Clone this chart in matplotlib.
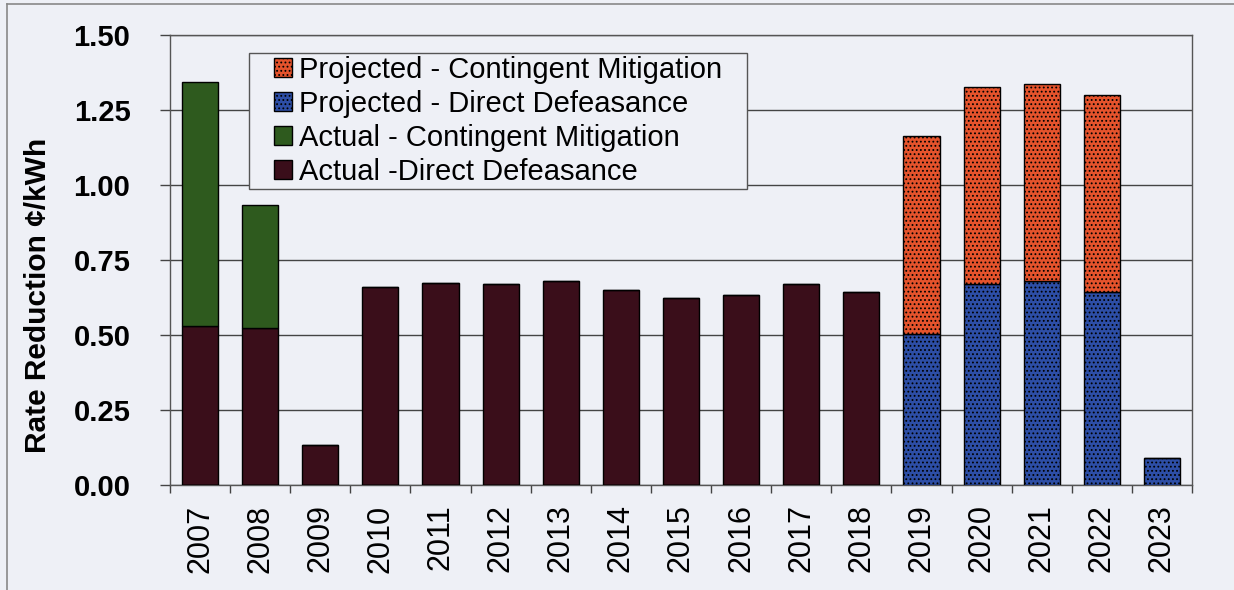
import matplotlib
matplotlib.use("Agg")
import matplotlib.pyplot as plt
import numpy as np
from matplotlib.patches import Rectangle
from matplotlib.lines import Line2D

years = ["2007", "2008", "2009", "2010", "2011", "2012", "2013", "2014", "2015",
         "2016", "2017", "2018", "2019", "2020", "2021", "2022", "2023"]
actual_direct = [0.53, 0.525, 0.135, 0.66, 0.675, 0.67, 0.68, 0.65, 0.625,
                 0.635, 0.67, 0.645, 0, 0, 0, 0, 0]
actual_contingent = [0.813, 0.408, 0, 0, 0, 0, 0, 0, 0,
                     0, 0, 0, 0, 0, 0, 0, 0]
projected_direct = [0, 0, 0, 0, 0, 0, 0, 0, 0,
                    0, 0, 0, 0.503, 0.67, 0.68, 0.645, 0.09]
projected_contingent = [0, 0, 0, 0, 0, 0, 0, 0, 0,
                        0, 0, 0, 0.66, 0.655, 0.657, 0.655, 0]
legend_labels = ["Projected - Contingent Mitigation", "Projected - Direct Defeasance",
                 "Actual - Contingent Mitigation", "Actual -Direct Defeasance"]

bg = "#eef0f6"
c_dark = "#3a0e1a"
c_green = "#2e5a1e"
c_blue = "#2d4ea6"
c_orange = "#e5532c"

plt.rcParams["font.family"] = ["Liberation Sans", "DejaVu Sans"]
plt.rcParams["hatch.color"] = "#f4d0c0"
plt.rcParams["hatch.linewidth"] = 0.8

fig = plt.figure(figsize=(12.34, 5.9), dpi=100, facecolor=bg)
ax = fig.add_axes([170 / 1234, 105 / 590, 1022 / 1234, 450 / 590])
ax.set_facecolor(bg)

x = np.arange(len(years))
w = 0.6
ad = np.array(actual_direct)
ac = np.array(actual_contingent)
pd_ = np.array(projected_direct)
pc = np.array(projected_contingent)

ax.bar(x, ad, w, color=c_dark, edgecolor="black", linewidth=1, zorder=3)
ax.bar(x, ac, w, bottom=ad, color=c_green, edgecolor="black", linewidth=1, zorder=3)
b1 = ax.bar(x, pd_, w, color=c_blue, edgecolor="black", linewidth=1, zorder=3)
for b in b1:
    b.set_hatch("....")
b2 = ax.bar(x, pc, w, bottom=pd_, color=c_orange, edgecolor="black", linewidth=1, zorder=3)
for b in b2:
    b.set_hatch("....")

ax.set_xlim(-0.5, len(years) - 0.5)
ax.set_ylim(0, 1.5)
yt = np.arange(0, 1.51, 0.25)
ax.set_yticks(yt)
ax.set_yticklabels([f"{v:.2f}" for v in yt], fontsize=21, fontweight="bold")
ax.yaxis.grid(True, color="#444444", linewidth=1, zorder=0)
ax.tick_params(axis="y", direction="out", length=7.5, width=1, pad=21, color="#444444")

ax.set_xticks(x)
ax.set_xticklabels(years, rotation=90, fontsize=22)
ax.tick_params(axis="x", length=0, pad=14)
ax.set_xticks(np.arange(-0.5, len(years), 1), minor=True)
ax.tick_params(axis="x", which="minor", direction="out", length=6, width=1, color="#444444")

for s in ax.spines.values():
    s.set_color("#555555")
    s.set_linewidth(1)

ax.set_ylabel("Rate Reduction ¢/kWh", fontsize=21.5, fontweight="bold")
ax.yaxis.set_label_coords((52 - 170) / 1022, (485 - 295) / 450)

handles = [Rectangle((0, 0), 1, 1, facecolor=c_orange, edgecolor="black", hatch="...."),
           Rectangle((0, 0), 1, 1, facecolor=c_blue, edgecolor="black", hatch="...."),
           Rectangle((0, 0), 1, 1, facecolor=c_green, edgecolor="black"),
           Rectangle((0, 0), 1, 1, facecolor=c_dark, edgecolor="black")]
leg = fig.legend(handles, legend_labels, loc="upper left",
                 bbox_to_anchor=(274 / 1234, 1 - 56 / 590),
                 fontsize=21, frameon=False, handlelength=0.62,
                 handleheight=0.62, handletextpad=0.25, labelspacing=0.2,
                 borderpad=0, borderaxespad=0)
leg.set_zorder(5)

# legend box, drawn by hand to get the wide side margins of the original
fig.patches.append(Rectangle((249 / 1234, 1 - 189 / 590), (747 - 249) / 1234, (189 - 53) / 590,
                             transform=fig.transFigure, facecolor=bg,
                             edgecolor="#555555", linewidth=1, zorder=4))

# outer frame of the picture (left and top edges)
fig.add_artist(Line2D([7 / 1234, 7 / 1234], [0, 1 - 4 / 590], transform=fig.transFigure,
                      color="#888888", linewidth=1.2))
fig.add_artist(Line2D([7 / 1234, 1], [1 - 4 / 590, 1 - 4 / 590], transform=fig.transFigure,
                      color="#888888", linewidth=1.2))

fig.savefig("out.png", dpi=100, facecolor=bg)
